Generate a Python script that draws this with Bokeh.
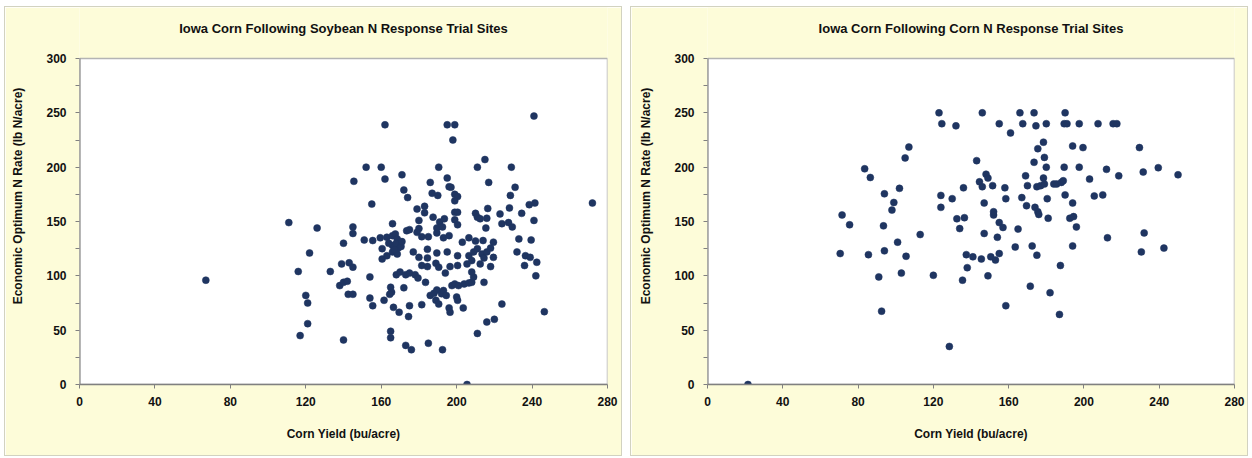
from bokeh.plotting import figure
from bokeh.models import Range1d, FixedTicker, ColumnDataSource, Label
from bokeh.layouts import row
from bokeh.embed import file_html
from bokeh.resources import INLINE

# ---------------- data ----------------
title_left = "Iowa Corn Following Soybean N Response Trial Sites"
title_right = "Iowa Corn Following Corn N Response Trial Sites"
x_label = "Corn Yield (bu/acre)"
y_label = "Economic Optimum N Rate (lb N/acre)"
x_ticks = [0, 40, 80, 120, 160, 200, 240, 280]
y_ticks = [0, 50, 100, 150, 200, 250, 300]
y_minor = [25, 75, 125, 175, 225, 275]
x_min, x_max = 0, 280
y_min, y_max = 0, 300

# Corn following soybean: yield (bu/acre)
sb_yield = [
    67, 111, 116, 117, 120, 121, 121, 122, 126, 133, 138, 139, 140, 140, 140, 142, 142.5, 145, 143, 145, 145, 145, 145.5,
    162, 195, 199, 198, 241, 272,
    152, 160, 190.5, 211, 215, 229,
    162, 171, 186, 195, 196, 197, 217, 231,
    172, 174, 187, 190, 199, 200.5, 199, 228.5,
    155, 238.5, 241.5,
    179, 183, 183, 199, 200.5, 216.5, 228, 234.5,
    180, 187.5, 191, 193.5, 199, 200.5,
    210, 211, 212.5, 216, 215.5,
    223, 224, 227.5, 229.5, 241,
    166, 180, 189.5, 192.5,
    151, 155.5, 159.5, 163, 166, 167.5, 168.5, 173.5, 175, 179, 181.5, 185, 189.5, 193, 196, 203, 206.5, 210, 214, 219.5, 233, 239.5,
    160.5, 163, 166, 168.5, 177, 180, 184.5, 189.5, 195, 200.5, 206.5, 209, 213.5, 214.5, 216, 219.5, 232, 236.5, 239, 242.5,
    160.5, 169, 184.5, 211, 218,
    166, 168, 170.5, 167, 171, 164,
    154, 168, 170, 173, 175, 178, 179.5,
    181.5, 184.5, 189, 190.5, 194, 196.5, 200.5, 205.5, 208, 212.5, 218,
    236, 242,
    154, 155.5, 161.5, 165, 165.5, 164.5, 172, 166.5, 169.5, 175, 174.5, 181.5, 183.5,
    186, 188, 189.5, 192, 193, 194.5, 197.5, 199, 201, 204, 206.5, 208, 209, 208, 214.5, 189, 190.5,
    200, 200.5, 196, 196.5, 203.5,
    224, 246.5, 216, 220, 211, 165, 165, 173, 176, 185, 192.5,
    205.5,
]
# Corn following soybean: economic optimum N rate (lb N/acre)
sb_eonr = [
    96, 149, 104, 45, 82, 75, 56, 121, 144, 104, 91, 111, 130, 41, 94, 95, 83, 83, 112, 108, 139, 145, 187,
    239, 239, 239, 225, 247, 167,
    200, 200, 200, 200, 207, 200,
    189, 193, 186, 190, 182, 181.5, 186, 181.5,
    179, 172, 176, 174, 175, 173, 169, 174,
    166, 165.5, 167,
    161.5, 164, 158, 158.5, 158.5, 162, 162.5, 157.5,
    151, 154, 149.5, 152.5, 151.5, 147,
    157.5, 154, 152.5, 153, 144,
    157, 148, 149, 145, 151,
    148, 143.5, 144, 145,
    133, 132.5, 135, 135.5, 137, 138.5, 134, 141.5, 142.5, 140, 136, 136, 139.5, 135, 137, 131, 135, 132, 132.5, 131, 134, 133,
    115.5, 118.5, 122, 120, 122, 117, 116.5, 121, 122, 118.5, 118.5, 122, 120, 116.5, 122, 117, 122, 118.5, 117, 112.5,
    125, 125.5, 124.5, 125, 125.5,
    128, 130, 127, 124, 131.5, 130,
    99, 101, 103.5, 101, 102.5, 101, 98,
    109.5, 108.5, 111.5, 108, 102.5, 108.5, 109.5, 111, 114, 111, 108.5,
    109.5, 100,
    79.5, 72.5, 77.5, 89.5, 85, 83, 89, 71, 66.5, 72.5, 62.5, 73.5, 94,
    82, 84, 87, 83.5, 86.5, 82, 91, 92.5, 91, 92.5, 93.5, 94, 99, 103.5, 94, 77.5, 74,
    80.5, 77.5, 70.5, 66.5, 70.5,
    74, 67, 57.5, 60, 47, 49, 43, 36, 32, 38, 32,
    0,
]

# Corn following corn: yield (bu/acre)
cc_yield = [
    21.5, 70.5, 71.5, 75.5, 83.5, 85.5, 86.5, 91, 92.5, 93.5, 94, 94, 98, 99, 101, 102, 103, 105, 105.5, 107,
    113, 120, 123, 124, 124, 124.5, 128.5, 130, 132, 132.5, 134, 135.5, 136, 136.5, 137.5, 138, 141, 143, 144.5, 145.5,
    146, 146, 147, 147, 148, 149, 149, 150.5, 151.5, 152, 152, 153, 154, 155, 155, 155, 157, 158, 158.5, 158.5,
    161, 163.5, 165, 166, 167, 167.5, 169, 169.5, 170, 171.5, 172.5, 173.5, 173.5, 174, 174.5, 175, 175, 175.5, 175.5, 176,
    177, 178.5, 178.5, 179, 179, 180, 180, 180.5, 181, 182, 184, 185.5, 187, 187.5, 188, 189, 189.5, 189.5, 190, 190,
    191, 192.5, 194, 194, 194, 194.5, 196, 197.5, 197.5, 199.5, 203, 205.5, 207.5, 210, 212, 212.5, 215.5, 217.5, 218.5, 229.5,
    230.5, 231.5, 232, 239.5, 242.5, 250,
]
# Corn following corn: economic optimum N rate (lb N/acre)
cc_eonr = [
    0, 120.5, 156, 147, 198.5, 119.5, 190.5, 99, 67.5, 146, 123, 175.5, 160.5, 167.5, 131, 180.5, 102.5, 208.5, 118, 218.5,
    138, 100.5, 250, 174, 163, 240, 35, 171, 238, 152.5, 143.5, 96, 181, 153.5, 119.5, 107.5, 117.5, 206, 186.5, 115.5,
    182, 250, 167, 139, 193.5, 100, 190, 117.5, 183, 156, 159, 114.5, 135.5, 240, 149, 120.5, 144.5, 181, 171, 72.5,
    231.5, 126.5, 143, 250, 172, 240, 192, 164.5, 183, 90.5, 127.5, 250, 204.5, 163, 238, 182, 119, 159, 217, 156.5,
    183, 223, 190, 184.5, 209, 240, 200, 171, 153, 84.5, 184.5, 184.5, 64.5, 109.5, 186, 187.5, 240, 200, 250, 174.5,
    240, 153, 219.5, 167, 127.5, 154.5, 145, 200, 240, 218, 189, 173.5, 240, 174.5, 198, 135, 240, 240, 192, 218,
    122, 195.5, 139.5, 199.5, 125.5, 193,
]

# ---------------- style ----------------
PANEL = "#FDFCD9"
DOT = "#1F3561"
AXIS = "#808080"
FONT = "Liberation Sans"
FIG_W, FIG_H = 616, 448
BOTTOM = 71
PLOT_PX = 326          # pixel height of the white plot area (0..300)
FRAME_PX = FIG_H - BOTTOM
TITLE_PX_ABOVE = 30    # title centre, pixels above the plot area


def make_panel(title, xs, ys, b_left, b_right):
    per_px = (y_max - y_min) / PLOT_PX
    y_top = y_min + FRAME_PX * per_px
    p = figure(width=FIG_W, height=FIG_H, output_backend="svg", toolbar_location=None,
               x_range=Range1d(x_min, x_max), y_range=Range1d(y_min, y_top),
               min_border_left=b_left, min_border_right=b_right,
               min_border_top=0, min_border_bottom=BOTTOM)
    p.background_fill_color = PANEL
    p.border_fill_color = PANEL
    p.outline_line_color = None
    p.grid.visible = False

    # white plot area with grey border
    p.quad(left=[x_min], right=[x_max], bottom=[y_min], top=[y_max],
           fill_color="white", line_color="#B4B4B4", line_width=1.5)
    # darker left axis line (only up to the top of the plot area)
    p.segment(x0=[x_min], y0=[y_min], x1=[x_min], y1=[y_max], line_color=AXIS, line_width=2)

    # title
    p.add_layout(Label(x=(x_min + x_max) / 2, y=y_max + TITLE_PX_ABOVE * per_px, text=title,
                       text_align="center", text_baseline="middle",
                       text_font=FONT, text_font_style="bold", text_font_size="13px",
                       text_color="#111111"))

    p.xaxis.ticker = FixedTicker(ticks=x_ticks, minor_ticks=[])
    p.yaxis.ticker = FixedTicker(ticks=y_ticks, minor_ticks=y_minor)
    p.xaxis.axis_label = x_label
    p.yaxis.axis_label = y_label
    for ax in (p.xaxis[0], p.yaxis[0]):
        ax.axis_line_color = AXIS
        ax.axis_line_width = 1.5
        ax.major_tick_line_color = AXIS
        ax.minor_tick_line_color = AXIS
        ax.major_tick_in = 0
        ax.major_tick_out = 4
        ax.minor_tick_in = 0
        ax.minor_tick_out = 4
        ax.major_label_text_font = FONT
        ax.major_label_text_font_style = "bold"
        ax.major_label_text_font_size = "12px"
        ax.major_label_text_color = "#111111"
        ax.axis_label_text_font = FONT
        ax.axis_label_text_font_style = "bold"
        ax.axis_label_text_font_size = "12px"
        ax.axis_label_text_color = "#111111"
    p.yaxis.axis_line_color = None
    p.xaxis.major_label_standoff = 8
    p.xaxis.axis_label_standoff = 18
    p.yaxis.major_label_standoff = 9
    p.yaxis.axis_label_standoff = 18

    src = ColumnDataSource(dict(x=xs, y=ys))
    p.scatter("x", "y", source=src, size=7, fill_color=DOT, line_color=DOT, line_width=0.5)
    return p


p1 = make_panel(title_left, sb_yield, sb_eonr, 74, 14)
p2 = make_panel(title_right, cc_yield, cc_eonr, 76, 13)
p1.margin = (7, 0, 0, 5)
p2.margin = (7, 0, 0, 10)
p1.styles = {"outline": "1px solid #D2D2C0"}
p2.styles = {"outline": "1px solid #D2D2C0"}

layout = row(p1, p2)
open("out.html", "w").write(file_html(layout, INLINE))
